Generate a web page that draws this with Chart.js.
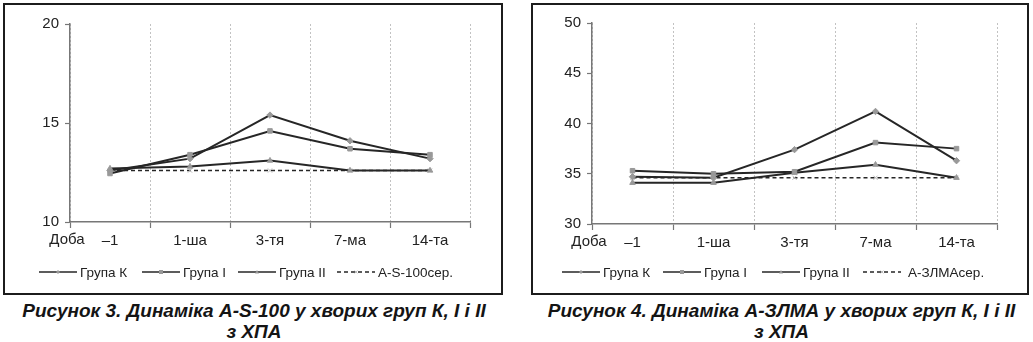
<!DOCTYPE html>
<html>
<head>
<meta charset="utf-8">
<script src="https://cdn.jsdelivr.net/npm/chart.js@4.4.0/dist/chart.umd.min.js"></script>
<style>
  body { margin: 0; background: #fff; width: 1033px; height: 342px; position: relative; overflow: hidden;
         font-family: "Liberation Sans", Arial, sans-serif; }
  .ramka { position: absolute; border: 2px solid #1c1c1c; box-sizing: border-box; }
  .graf { position: absolute; }
  .pidpys { position: absolute; text-align: center; font-weight: bold; font-style: italic;
            font-size: 19px; line-height: 21px; color: #141414; }
</style>
</head>
<body>
<div class="ramka" style="left:3px;top:3px;width:500px;height:292px"></div>
<div class="ramka" style="left:531px;top:3px;width:498px;height:292px"></div>
<div class="graf" style="left:0;top:0;width:516px;height:300px"><canvas id="grafS100"></canvas></div>
<div class="graf" style="left:520px;top:0;width:513px;height:300px"><canvas id="grafZLMA"></canvas></div>
<div class="pidpys" style="left:0;top:300px;width:508px">Рисунок 3. Динаміка A-S-100 у хворих груп К, І і ІІ<br>з ХПА</div>
<div class="pidpys" style="left:530px;top:300px;width:503px">Рисунок 4. Динаміка A-ЗЛМА у хворих груп К, І і ІІ<br>з ХПА</div>

<script>
// Доби спостереження
const doby = ['–1', '1-ша', '3-тя', '7-ма', '14-та'];
const nazvyGrup = ['Група К', 'Група І', 'Група ІІ'];

// A-S-100
const s100GrupaK  = [12.6, 13.2, 15.4, 14.1, 13.2];
const s100GrupaI  = [12.45, 13.4, 14.6, 13.7, 13.4];
const s100GrupaII = [12.7, 12.8, 13.1, 12.6, 12.6];
const s100Ser     = [12.6, 12.6, 12.6, 12.6, 12.6];
const s100Osi     = [10, 20];

// A-ЗЛМА
const zlmaGrupaK  = [34.7, 34.6, 37.4, 41.2, 36.3];
const zlmaGrupaI  = [35.3, 35.0, 35.2, 38.1, 37.5];
const zlmaGrupaII = [34.1, 34.1, 35.1, 35.9, 34.6];
const zlmaSer     = [34.6, 34.6, 34.6, 34.6, 34.6];
const zlmaOsi     = [30, 50];

Chart.defaults.font.family = '"Liberation Sans", Arial, sans-serif';
Chart.defaults.color = '#222';

const LINIA = '#262626';
const MARKER = '#999';
const stylMarkeriv = ['rectRot', 'rect', 'triangle', 'crossRot'];

function malyuvatyMarker(ctx, styl, x, y, r) {
  ctx.save();
  ctx.fillStyle = MARKER;
  ctx.strokeStyle = styl === 'crossRot' ? '#bbb' : MARKER;
  ctx.lineWidth = 1;
  ctx.beginPath();
  if (styl === 'rect') {
    ctx.rect(x - r, y - r, 2 * r, 2 * r); ctx.fill();
  } else if (styl === 'rectRot') {
    ctx.moveTo(x, y - r); ctx.lineTo(x + r, y); ctx.lineTo(x, y + r); ctx.lineTo(x - r, y); ctx.closePath(); ctx.fill();
  } else if (styl === 'triangle') {
    ctx.moveTo(x, y - r); ctx.lineTo(x + r, y + r * 0.7); ctx.lineTo(x - r, y + r * 0.7); ctx.closePath(); ctx.fill();
  } else {
    ctx.moveTo(x - r * 0.7, y - r * 0.7); ctx.lineTo(x + r * 0.7, y + r * 0.7);
    ctx.moveTo(x + r * 0.7, y - r * 0.7); ctx.lineTo(x - r * 0.7, y + r * 0.7); ctx.stroke();
  }
  ctx.restore();
}

// Легенда під графіком і підпис "Доба" біля осі
const legendaDoba = {
  id: 'legendaDoba',
  afterDraw(chart, args, opts) {
    const ctx = chart.ctx;
    const xs = chart.scales.x;
    ctx.save();
    ctx.font = '15px "Liberation Sans", Arial, sans-serif';
    ctx.fillStyle = '#222';
    ctx.textAlign = 'center';
    ctx.textBaseline = 'top';
    ctx.fillText('Доба', chart.chartArea.left - 3, xs.top + 10);

    ctx.font = '13.5px "Liberation Sans", Arial, sans-serif';
    ctx.textAlign = 'left';
    ctx.textBaseline = 'middle';
    chart.data.datasets.forEach((ds, i) => {
      const x0 = opts.pozytsii[i];
      const y = opts.y;
      const dovzhyna = 38;
      const vidstup = i === 3 ? opts.vidstupSer : 3;
      ctx.save();
      ctx.strokeStyle = LINIA;
      ctx.lineWidth = 1.5;
      ctx.setLineDash(ds.borderDash || []);
      ctx.beginPath(); ctx.moveTo(x0, y); ctx.lineTo(x0 + dovzhyna, y); ctx.stroke();
      ctx.restore();
      malyuvatyMarker(ctx, ds.pointStyle, x0 + dovzhyna / 2, y, 2);
      ctx.fillStyle = '#222';
      ctx.fillText(ds.label, x0 + dovzhyna + vidstup, y + 1);
    });
    ctx.restore();
  }
};

function stvorytyGrafik(id, nazvaSer, ryady, osi, shyrynaOsi, vidstupy, pozytsii, vidstupSer) {
  const nabory = ryady.map((dani, i) => ({
    label: i < 3 ? nazvyGrup[i] : nazvaSer,
    data: dani,
    borderColor: LINIA,
    borderWidth: i < 3 ? 2 : 1.6,
    borderDash: i < 3 ? [] : [4, 3],
    tension: 0,
    pointStyle: stylMarkeriv[i],
    pointRadius: i === 3 ? 3 : 3.2,
    pointBackgroundColor: MARKER,
    pointBorderColor: i === 3 ? '#bbb' : MARKER,
    pointBorderWidth: 1
  }));

  return new Chart(document.getElementById(id), {
    type: 'line',
    data: { labels: doby, datasets: nabory },
    options: {
      responsive: true,
      maintainAspectRatio: false,
      animation: false,
      layout: { padding: vidstupy },
      plugins: {
        legend: { display: false },
        tooltip: { enabled: false },
        legendaDoba: { pozytsii: pozytsii, y: 272, vidstupSer: vidstupSer }
      },
      scales: {
        x: {
          type: 'category',
          offset: true,
          afterFit: s => { s.height = 30; },
          grid: { offset: true, color: '#c2c2c2', lineWidth: 1, tickLength: 6, tickColor: '#777', tickWidth: 1.2 },
          border: { color: '#777', width: 1.5, dash: [2, 2] },
          ticks: { font: { size: 15 }, color: '#222', padding: 4, maxRotation: 0 }
        },
        y: {
          min: osi[0],
          max: osi[1],
          afterFit: s => { s.width = shyrynaOsi; },
          grid: { drawOnChartArea: false, tickLength: 5, tickColor: '#777', tickWidth: 1.2 },
          border: { color: '#777', width: 1.5 },
          ticks: { stepSize: 5, font: { size: 15 }, color: '#222', padding: 6 }
        }
      }
    },
    plugins: [legendaDoba]
  });
}

stvorytyGrafik('grafS100', 'A-S-100сер.',
  [s100GrupaK, s100GrupaI, s100GrupaII, s100Ser], s100Osi, 70,
  { left: 0, right: 46, top: 24, bottom: 48 }, [39, 142, 238, 337], 3);

stvorytyGrafik('grafZLMA', 'A-ЗЛМАсер.',
  [zlmaGrupaK, zlmaGrupaI, zlmaGrupaII, zlmaSer], zlmaOsi, 72,
  { left: 0, right: 36, top: 23, bottom: 46 }, [42, 143, 242, 343], 7);
</script>
</body>
</html>
